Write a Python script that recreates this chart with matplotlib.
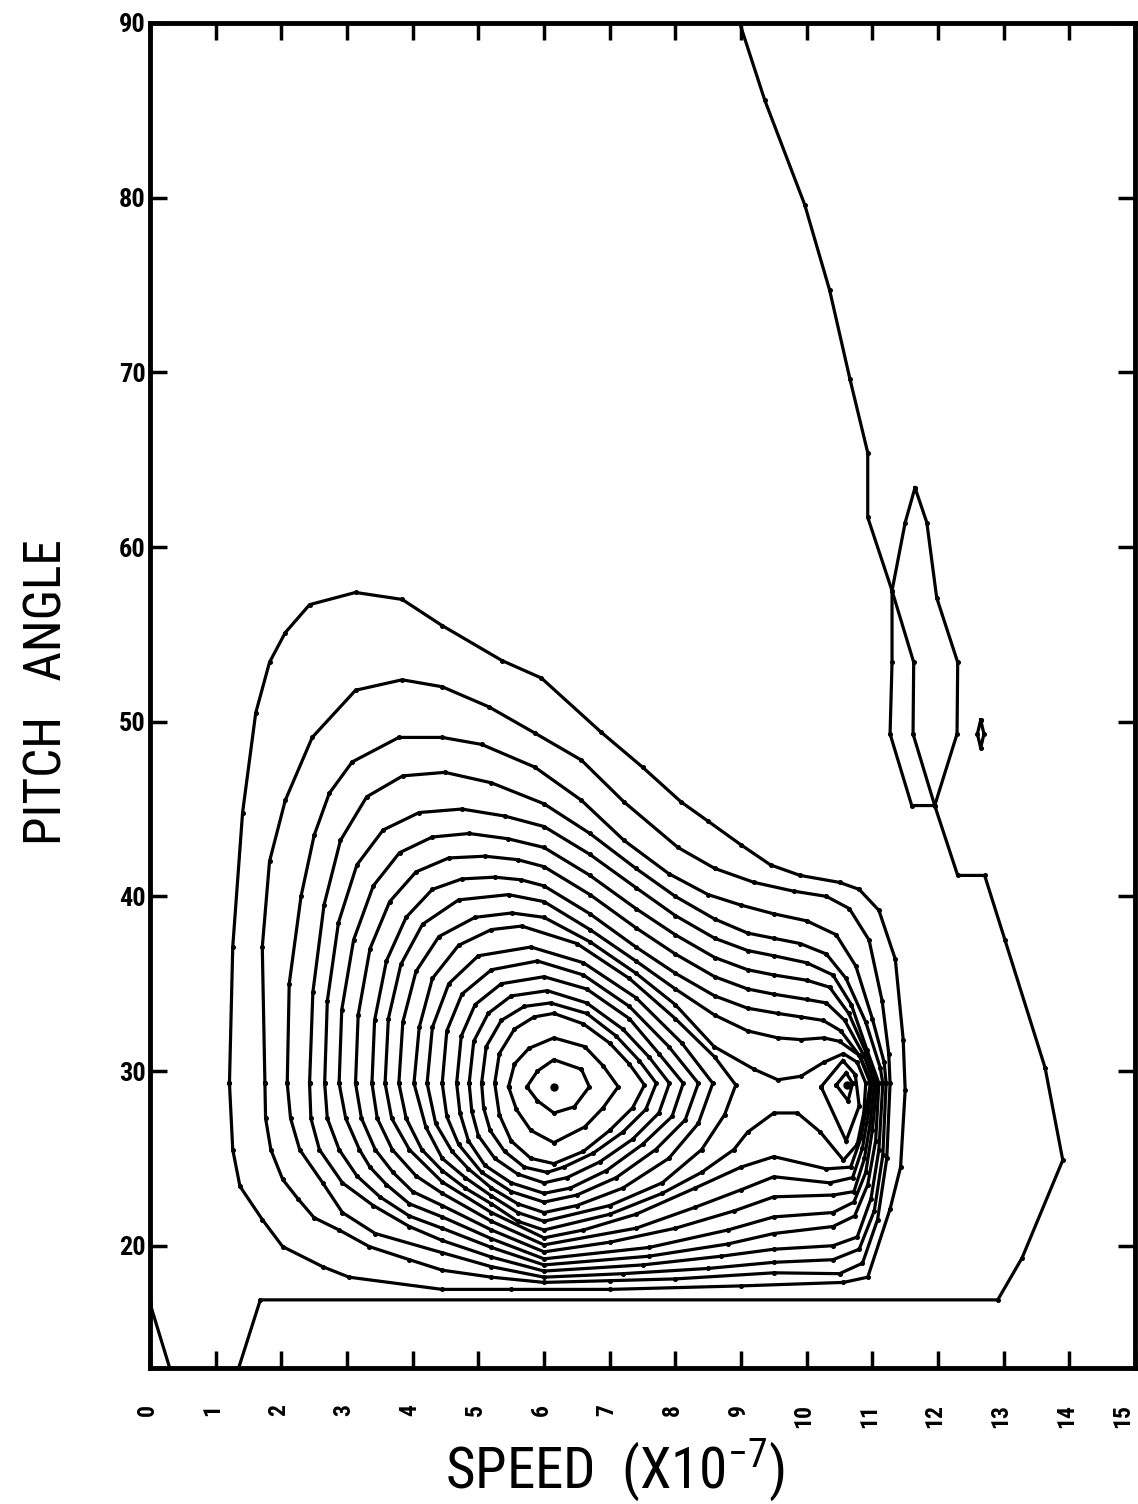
import matplotlib
matplotlib.use("Agg")
import matplotlib.pyplot as plt
from matplotlib import font_manager
from matplotlib.transforms import ScaledTranslation

# axis ticks
speed_ticks = list(range(0, 16))
angle_ticks = [20, 30, 40, 50, 60, 70, 80, 90]

# contour lines, (speed, pitch angle), outermost first
c01 = [(1.21, 29.3), (1.26, 37.1), (1.41, 44.8), (1.61, 50.5), (1.82, 53.4), (2.06, 55.1), (2.43, 56.7),
       (3.13, 57.4), (3.84, 57.0), (4.45, 55.5), (5.36, 53.5), (5.96, 52.5), (6.87, 49.4), (7.5, 47.4),
       (8.09, 45.4), (8.5, 44.3), (9.0, 42.95), (9.45, 41.8), (9.9, 41.2), (10.5, 40.8), (10.8, 40.4),
       (11.1, 39.2), (11.35, 36.4), (11.47, 31.8), (11.5, 28.9), (11.43, 24.5), (11.27, 22.1), (10.93, 18.2),
       (10.56, 17.9), (9.0, 17.7), (7.0, 17.5), (5.5, 17.5), (4.45, 17.5), (3.03, 18.2), (2.63, 18.8),
       (2.02, 19.95), (1.71, 21.5), (1.37, 23.4), (1.26, 25.5)]
c02 = [(1.75, 29.3), (1.71, 37.1), (1.82, 42.0), (2.06, 45.5), (2.47, 49.1), (3.13, 51.8), (3.84, 52.4),
       (4.45, 52.0), (5.16, 50.85), (5.86, 49.35), (6.57, 47.8), (7.22, 45.4), (8.04, 42.8), (8.6, 41.6),
       (9.2, 40.8), (9.8, 40.3), (10.3, 40.0), (10.65, 39.3), (10.95, 37.5), (11.15, 34.0), (11.25, 31.0),
       (11.27, 29.3), (11.22, 25.0), (11.08, 21.5), (10.85, 19.0), (10.5, 18.4), (9.5, 18.45), (8.0, 18.1),
       (7.0, 18.0), (6.0, 17.9), (5.2, 18.2), (4.45, 18.6), (3.95, 19.2), (3.34, 19.95), (2.88, 20.9),
       (2.5, 21.6), (2.25, 22.7), (2.02, 23.8), (1.84, 25.5), (1.76, 27.3)]
c03 = [(2.09, 29.3), (2.12, 35.0), (2.3, 40.0), (2.5, 43.5), (2.73, 45.9), (3.08, 47.7), (3.79, 49.1),
       (4.45, 49.1), (5.05, 48.7), (5.86, 47.4), (6.57, 45.5), (7.22, 43.2), (7.9, 41.3), (8.5, 40.1),
       (9.0, 39.5), (9.5, 39.0), (10.0, 38.6), (10.45, 37.8), (10.75, 36.0), (11.0, 33.0), (11.18, 30.5),
       (11.21, 29.3), (11.16, 25.2), (11.03, 22.0), (10.8, 19.8), (10.4, 19.2), (9.5, 19.05), (8.5, 18.7),
       (7.2, 18.4), (6.0, 18.2), (5.2, 18.8), (4.45, 19.6), (3.43, 20.7), (2.93, 21.9), (2.63, 23.6),
       (2.28, 25.5), (2.14, 27.3)]
c04 = [(2.43, 29.3), (2.48, 34.5), (2.65, 39.5), (2.9, 43.2), (3.3, 45.7), (3.85, 46.9), (4.49, 47.1),
       (5.2, 46.5), (6.0, 45.3), (6.7, 43.6), (7.4, 41.6), (8.0, 40.0), (8.6, 38.7), (9.1, 37.9), (9.5, 37.6),
       (9.9, 37.3), (10.3, 36.7), (10.6, 35.3), (10.9, 32.8), (11.12, 30.2), (11.16, 29.3), (11.1, 25.5),
       (10.98, 22.7), (10.77, 20.5), (10.4, 20.0), (9.5, 19.8), (8.7, 19.4), (7.5, 18.9), (6.0, 18.55),
       (5.2, 19.35), (4.45, 20.3), (3.95, 21.1), (3.4, 22.3), (2.93, 23.6), (2.58, 25.5), (2.45, 27.3)]
c05 = [(2.66, 29.3), (2.7, 34.0), (2.87, 38.5), (3.15, 41.8), (3.55, 43.8), (4.1, 44.8), (4.75, 45.0),
       (5.4, 44.6), (6.0, 44.0), (6.7, 42.4), (7.4, 40.5), (8.0, 38.9), (8.6, 37.6), (9.1, 36.9), (9.5, 36.6),
       (10.0, 36.2), (10.4, 35.5), (10.68, 33.8), (10.92, 31.2), (11.1, 29.3), (11.05, 26.0), (10.93, 23.5),
       (10.73, 21.7), (10.4, 21.1), (9.5, 20.7), (8.8, 20.1), (7.6, 19.4), (6.0, 18.9), (5.2, 19.9),
       (4.45, 21.0), (3.95, 21.7), (3.5, 22.8), (3.15, 24.0), (2.88, 25.5), (2.7, 27.3)]
c06 = [(2.88, 29.3), (2.92, 33.5), (3.1, 37.5), (3.4, 40.6), (3.8, 42.5), (4.3, 43.4), (4.86, 43.6),
       (5.45, 43.3), (6.0, 42.8), (6.7, 41.2), (7.4, 39.3), (8.0, 37.8), (8.6, 36.5), (9.1, 35.8), (9.5, 35.5),
       (10.0, 35.2), (10.35, 34.8), (10.64, 33.3), (10.9, 31.1), (11.07, 29.3), (11.0, 26.6), (10.9, 24.2),
       (10.72, 22.5), (10.4, 21.9), (9.5, 21.65), (8.8, 20.9), (7.6, 19.9), (6.0, 19.25), (5.2, 20.4),
       (4.45, 21.65), (3.95, 22.4), (3.6, 23.5), (3.35, 24.5), (3.19, 25.5), (2.98, 27.3)]
c07 = [(3.13, 29.3), (3.17, 33.2), (3.35, 37.0), (3.65, 39.7), (4.05, 41.4), (4.55, 42.2), (5.1, 42.3),
       (5.6, 42.1), (6.0, 41.7), (6.7, 40.1), (7.4, 38.2), (8.0, 36.7), (8.6, 35.4), (9.1, 34.7), (9.5, 34.4),
       (10.0, 34.1), (10.3, 33.9), (10.58, 32.9), (10.87, 30.9), (11.03, 29.3), (10.97, 27.1), (10.88, 25.0),
       (10.72, 23.1), (10.4, 22.9), (9.5, 22.8), (8.9, 22.0), (8.0, 21.0), (7.0, 20.2), (6.0, 19.65),
       (5.2, 20.9), (4.45, 22.3), (4.0, 23.1), (3.7, 24.2), (3.43, 25.5), (3.22, 27.3)]
c08 = [(3.38, 29.3), (3.42, 32.9), (3.6, 36.3), (3.9, 38.8), (4.3, 40.4), (4.75, 41.0), (5.25, 41.1),
       (5.65, 40.95), (6.0, 40.6), (6.7, 39.0), (7.4, 37.1), (8.0, 35.6), (8.6, 34.3), (9.1, 33.6),
       (9.56, 33.3), (9.91, 33.1), (10.25, 32.9), (10.52, 32.3), (10.82, 30.8), (10.99, 29.3), (10.94, 27.6),
       (10.85, 25.6), (10.7, 23.9), (10.35, 23.6), (9.5, 23.95), (9.0, 23.2), (8.3, 22.2), (7.4, 21.0),
       (6.0, 20.05), (5.2, 21.4), (4.45, 23.0), (4.05, 24.0), (3.69, 25.5), (3.46, 27.3)]
c09 = [(3.58, 29.3), (3.63, 33.0), (3.82, 36.1), (4.15, 38.4), (4.7, 39.8), (5.46, 40.1), (6.0, 39.7),
       (6.7, 38.1), (7.4, 36.3), (8.0, 34.7), (8.6, 33.2), (9.1, 32.3), (9.56, 31.9), (9.91, 31.8),
       (10.26, 31.9), (10.5, 31.7), (10.8, 30.9), (10.97, 29.3), (10.91, 27.9), (10.83, 26.2), (10.67, 24.5),
       (10.3, 24.4), (9.5, 25.1), (9.0, 24.5), (8.3, 23.3), (7.4, 21.8), (6.6, 20.9), (6.0, 20.45),
       (5.2, 21.9), (4.45, 23.65), (3.95, 25.5), (3.68, 27.3)]
c10 = [(3.79, 29.3), (3.85, 32.8), (4.05, 35.7), (4.4, 37.7), (4.95, 38.8), (5.51, 39.05), (6.0, 38.8),
       (6.7, 37.4), (7.4, 35.6), (8.0, 33.8), (8.59, 31.4), (9.2, 30.1), (9.56, 29.5), (9.91, 29.7),
       (10.26, 30.5), (10.56, 31.0), (10.77, 30.5), (10.9, 29.3), (10.87, 27.6), (10.77, 25.8),
       (10.56, 24.9), (10.21, 26.5), (9.86, 27.6), (9.5, 27.6), (9.1, 26.5), (8.89, 25.5), (8.4, 24.2),
       (7.8, 23.0), (7.0, 21.8), (6.0, 20.9), (5.6, 21.4), (5.2, 22.4), (4.8, 23.3), (4.45, 24.3),
       (4.14, 25.5), (3.9, 27.3)]
c11 = [(4.02, 29.3), (4.1, 32.5), (4.3, 35.3), (4.7, 37.2), (5.2, 38.1), (5.66, 38.3), (6.5, 37.3),
       (7.3, 35.3), (8.0, 33.0), (8.6, 30.8), (8.92, 29.2), (8.75, 27.5), (8.4, 25.5), (7.8, 23.6),
       (7.0, 22.3), (6.0, 21.4), (5.6, 21.9), (5.2, 22.85), (4.8, 23.9), (4.45, 25.0), (4.2, 26.8)]
c12 = [(4.22, 29.3), (4.3, 32.5), (4.55, 35.0), (5.0, 36.6), (5.8, 37.1), (6.6, 36.2), (7.4, 34.2),
       (8.1, 31.6), (8.57, 29.3), (8.35, 27.0), (7.9, 25.0), (7.2, 23.3), (6.5, 22.3), (6.0, 21.9),
       (5.6, 22.4), (5.2, 23.3), (4.85, 24.4), (4.6, 25.4), (4.35, 27.0)]
c13 = [(4.45, 29.3), (4.52, 32.3), (4.75, 34.4), (5.2, 35.8), (5.9, 36.3), (6.6, 35.5), (7.3, 33.7),
       (7.9, 31.4), (8.35, 29.3), (8.15, 27.2), (7.7, 25.5), (7.1, 23.9), (6.5, 22.9), (6.0, 22.5),
       (5.5, 23.1), (5.05, 24.2), (4.7, 25.8), (4.52, 27.4)]
c14 = [(4.67, 29.3), (4.74, 32.0), (4.95, 33.8), (5.35, 35.0), (6.0, 35.4), (6.65, 34.7), (7.3, 33.0),
       (7.75, 31.0), (8.12, 29.3), (7.95, 27.4), (7.5, 25.8), (6.95, 24.3), (6.4, 23.3), (6.0, 23.0),
       (5.5, 23.6), (5.1, 24.6), (4.85, 26.0), (4.72, 27.6)]
c15 = [(4.86, 29.3), (4.93, 31.7), (5.15, 33.3), (5.5, 34.3), (6.05, 34.6), (6.65, 33.9), (7.2, 32.4),
       (7.6, 30.8), (7.91, 29.3), (7.75, 27.6), (7.35, 26.1), (6.85, 24.8), (6.35, 23.9), (6.0, 23.6),
       (5.6, 24.1), (5.25, 25.0), (5.0, 26.3), (4.9, 27.7)]
c16 = [(5.05, 29.3), (5.12, 31.4), (5.35, 32.9), (5.7, 33.7), (6.1, 33.9), (6.65, 33.3), (7.1, 32.0),
       (7.45, 30.6), (7.71, 29.3), (7.55, 27.8), (7.2, 26.5), (6.75, 25.3), (6.3, 24.5), (6.05, 24.2),
       (5.7, 24.5), (5.4, 25.4), (5.18, 26.6), (5.08, 27.9)]
c17 = [(5.25, 29.3), (5.32, 31.0), (5.55, 32.4), (5.85, 33.1), (6.15, 33.3), (6.6, 32.7), (7.0, 31.6),
       (7.3, 30.4), (7.53, 29.2), (7.35, 27.9), (7.0, 26.6), (6.6, 25.4), (6.15, 24.7), (5.8, 25.0),
       (5.5, 26.0), (5.32, 27.5)]
c18 = [(5.46, 29.1), (5.55, 30.4), (5.77, 31.3), (6.15, 31.9), (6.62, 31.4), (6.9, 30.3), (7.13, 29.1),
       (6.9, 27.9), (6.62, 26.8), (6.15, 25.9), (5.8, 26.6), (5.58, 27.8)]
c19 = [(5.74, 29.1), (5.9, 30.0), (6.15, 30.65), (6.57, 30.1), (6.69, 29.1), (6.46, 27.95), (6.15, 27.6),
       (5.9, 28.3)]

# closed loops round the second peak near speed 10.6
second_outer = [(10.22, 29.1), (10.55, 30.6), (10.74, 29.8), (10.8, 28.0), (10.6, 26.0)]
second_inner = [(10.45, 29.2), (10.6, 29.9), (10.7, 29.3), (10.63, 28.3)]

# the lowest level: open line plus two small loops
zero_line = [(8.98, 90.0), (9.36, 85.6), (9.97, 79.6), (10.35, 74.7), (10.66, 69.6), (10.93, 65.4),
             (10.93, 61.7), (11.3, 57.5), (11.63, 53.4), (11.62, 49.3), (11.95, 45.2), (12.3, 41.2),
             (12.71, 41.2), (13.02, 37.5), (13.63, 30.2), (13.9, 24.9), (13.28, 19.3), (12.91, 16.9),
             (1.68, 16.9), (1.35, 13.0)]
zero_loop = [(11.65, 63.4), (11.5, 61.4), (11.3, 57.5), (11.3, 53.4), (11.27, 49.3), (11.6, 45.2),
             (11.95, 45.2), (12.29, 49.3), (12.3, 53.4), (11.98, 57.1), (11.83, 61.4)]
tiny_loop = [(12.65, 50.1), (12.7, 49.3), (12.65, 48.5), (12.6, 49.3)]
corner_line = [(0.0, 16.7), (0.3, 13.0)]

peaks = [(6.15, 29.1), (10.62, 29.2)]

closed = [c01, c02, c03, c04, c05, c06, c07, c08, c09, c10, c11, c12, c13, c14, c15, c16, c17, c18, c19,
          second_outer, second_inner, zero_loop, tiny_loop]
open_lines = [zero_line, corner_line]

names = {f.name for f in font_manager.fontManager.ttflist}
label_font = next((n for n in ["Liberation Sans Narrow", "Roboto Condensed", "Liberation Sans"] if n in names),
                  "DejaVu Sans")
narrow = label_font not in ("Liberation Sans", "DejaVu Sans")

fig = plt.figure(figsize=(11.38, 15.04), dpi=100)
ax = fig.add_axes([150 / 1138, 1 - 1368 / 1504, 985 / 1138, 1345 / 1504])

line_kw = dict(color="black", lw=2.3, marker="o", ms=2.6, solid_joinstyle="miter")
for pts in closed:
    xs, ys = zip(*(pts + pts[:1]))
    ax.plot(xs, ys, **line_kw)
for pts in open_lines:
    xs, ys = zip(*pts)
    ax.plot(xs, ys, **line_kw)
px, py = zip(*peaks)
ax.plot(px, py, "o", color="black", ms=5)

ax.set_xlim(0, 15)
ax.set_ylim(13, 90)
ax.set_xticks(speed_ticks)
ax.set_xticklabels([str(v) for v in speed_ticks], rotation=90, fontweight="bold",
                   fontsize=17 if narrow else 14, family=label_font)
ax.set_yticks(angle_ticks)
ax.set_yticklabels([str(v) for v in angle_ticks], fontweight="bold",
                   fontsize=19 if narrow else 16, family=label_font)
ax.tick_params(axis="x", direction="in", length=12, width=2.5, top=True, pad=26)
ax.tick_params(axis="y", direction="in", length=12, width=2.5, right=True, pad=3)
for sp in ax.spines.values():
    sp.set_linewidth(3.5)

# labels sit a little left of their ticks, the last one more so it stays on the page
for i, lab in enumerate(ax.get_xticklabels()):
    dx = -12 if i == len(speed_ticks) - 1 else -3
    lab.set_transform(lab.get_transform() + ScaledTranslation(dx / 100, 0, fig.dpi_scale_trans))

big = 37 if narrow else 31
fig.text(48 / 1138, 1 - 692 / 1504, "PITCH   ANGLE", rotation=90, ha="center", va="center",
         fontsize=big, family=label_font)
fig.text(615 / 1138, 1 - 1470 / 1504, r"SPEED  (X10$^{\mathregular{-7}}$)", ha="center", va="center",
         fontsize=big + 4, family=label_font)

fig.savefig("out.png", dpi=100)
